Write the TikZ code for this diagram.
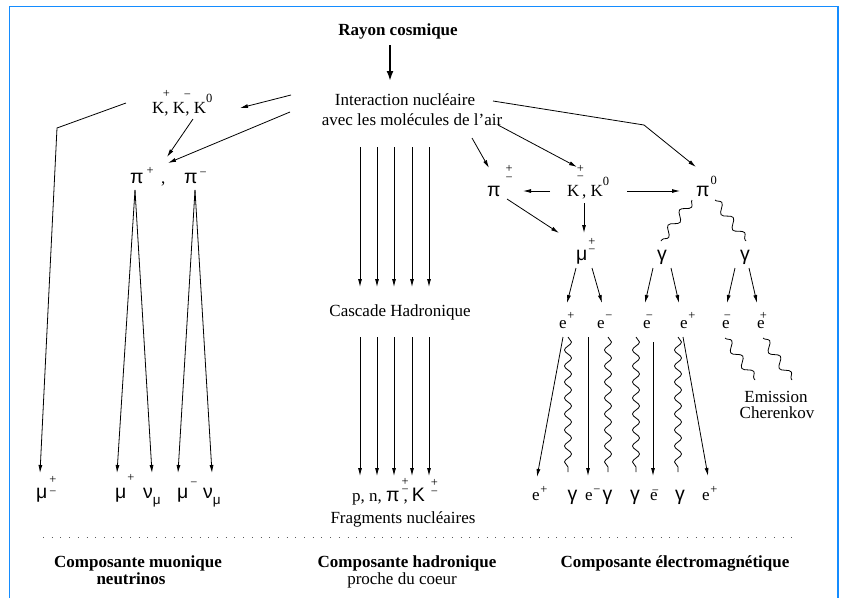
\documentclass[tikz,border=0pt]{standalone}
\usepackage{fontspec}
\setmainfont{Liberation Serif}
\newfontfamily\greekfont{Liberation Sans}
\usetikzlibrary{arrows.meta,decorations.pathmorphing}
\definecolor{framecol}{RGB}{20,140,255}
\definecolor{dotcol}{RGB}{90,90,90}
\newcommand\G[1]{{\fontsize{19.5}{19.5}\greekfont #1}}
\newcommand\Gs[1]{{\fontsize{13.5}{13.5}\greekfont #1}}
\newcommand\Up[2]{\raisebox{#1pt}{\fontsize{12.5}{12.5}\selectfont #2}}
\newcommand\UpL[2]{\rlap{\raisebox{#1pt}{\fontsize{12.5}{12.5}\selectfont #2}}}
\newcommand\PMS[2]{\rlap{\raisebox{#1pt}{\fontsize{12.5}{12.5}\selectfont +}}\raisebox{#2pt}{\fontsize{12.5}{12.5}\selectfont −}}
\tikzset{
  txt/.style={inner sep=0pt, anchor=base, font=\fontsize{17}{20}\selectfont},
  txtw/.style={txt, anchor=base west},
  bold/.style={txt, font=\bfseries\fontsize{17}{20}\selectfont},
  arr/.style={line width=0.8pt, -{Latex[length=8pt,width=4pt]}},
  wav/.style={line width=0.8pt, decorate, decoration={snake, amplitude=3.5pt, segment length=16pt}},
  wavd/.style={line width=0.8pt, decorate, decoration={snake, amplitude=4pt, segment length=19pt}},
}
\begin{document}
\begin{tikzpicture}[x=1pt,y=-1pt]
\useasboundingbox (0,0) rectangle (841,598);
\draw[framecol, line width=1.2pt] (9.5,598) -- (9.5,6.5) -- (838,6.5) -- (838,598);

% ---------- top ----------
\node[bold] (ray) at (398,35) {Rayon cosmique};
\coordinate (rayS) at (390,45);
\coordinate (intN) at (390,81);
\draw[line width=2pt, -{Latex[length=10pt,width=7pt]}] (rayS) -- (intN);
\node[txt] (int1) at (405,105) {Interaction nucléaire};
\node[txt] (int2) at (412,125) {avec les molécules de l’air};

% ---------- muonic column ----------
\node[txtw] (kL) at (152,113) {K\kern-1.5pt\UpL{16}{+}\kern1.5pt, K\kern-1.5pt\UpL{15}{−}\kern1.5pt, K\Up{11}{0}};
\node[txtw] (pip) at (130,183) {\G{π}\kern3pt\Up{9}{+}};
\node[txtw] (comma1) at (161,183) {,};
\node[txtw] (pim) at (184,183) {\G{π}\kern2pt\Up{7}{−}};

\coordinate (i1) at (291,95);  \coordinate (k1) at (240,108);
\coordinate (i2) at (290,112); \coordinate (p1) at (168,163);
\coordinate (k2) at (193,119); \coordinate (p2) at (167,157);
\coordinate (k3) at (126,103); \coordinate (bend1) at (57,128); \coordinate (m0) at (40,473);
\draw[arr] (i1) -- (k1);
\draw[arr] (i2) -- (p1);
\draw[arr] (k2) -- (p2);
\draw[arr] (k3) -- (bend1) -- (m0);

\coordinate (pipS) at (135,190); \coordinate (pimS) at (195,190);
\coordinate (m1) at (117,473); \coordinate (n1) at (152,473);
\coordinate (m2) at (178,473); \coordinate (n2) at (212,473);
\draw[arr] (pipS) -- (m1);
\draw[arr] (pipS) -- (n1);
\draw[arr] (pimS) -- (m2);
\draw[arr] (pimS) -- (n2);

\node[txtw] (muL) at (36,498) {\G{μ}\kern2pt\PMS{15}{2.5}};
\node[txtw] (mu1) at (115,498) {\G{μ}\kern1pt\Up{17}{+}};
\node[txtw] (nu1) at (143,498) {\G{ν}\kern0pt\raisebox{-6pt}{\Gs{μ}}};
\node[txtw] (mu2) at (177,498) {\G{μ}\kern2pt\Up{12}{−}};
\node[txtw] (nu2) at (203,498) {\G{ν}\kern0pt\raisebox{-6pt}{\Gs{μ}}};

% ---------- hadronic column ----------
\foreach \x [count=\i] in {360,377,394,412,429}{
  \coordinate (ha\i) at (\x,147); \coordinate (hb\i) at (\x,287);
  \coordinate (hc\i) at (\x,337); \coordinate (hd\i) at (\x,476);
  \draw[arr] (ha\i) -- (hb\i);
  \draw[arr] (hc\i) -- (hd\i);
}
\node[txt] (casc) at (400,316) {Cascade Hadronique};
\node[txtw] (frag) at (352,501) {p, n, \G{π}\kern2pt\PMS{16}{8}\kern-5pt,\kern4pt\G{K}\kern6pt\PMS{15}{6}};
\node[txt] (fragt) at (403,523) {Fragments nucléaires};

% ---------- electromagnetic column ----------
\node[txtw] (piE) at (487,196) {\G{π}\kern5pt\PMS{24}{15}};
\node[txtw] (kE) at (567,196) {K\kern-2.5pt\PMS{24}{16}\kern-2pt, K\Up{11}{0}};
\node[txtw] (pi0) at (696,196) {\G{π}\kern1pt\Up{12}{0}};

\coordinate (i3) at (472,138); \coordinate (pe1) at (489,168);
\coordinate (i4) at (498,125); \coordinate (ke1) at (577,167);
\coordinate (i5) at (493,101); \coordinate (bend2) at (644,125); \coordinate (p01) at (696,167);
\draw[arr] (i3) -- (pe1);
\draw[arr] (i4) -- (ke1);
\draw[arr] (i5) -- (bend2) -- (p01);

\coordinate (kw) at (550,191); \coordinate (pe2) at (523,191);
\coordinate (ke) at (627,191); \coordinate (p02) at (680,191);
\coordinate (pe3) at (507,199); \coordinate (mu3) at (559,233);
\coordinate (ks) at (584,203); \coordinate (mu4) at (584,233);
\draw[arr] (kw) -- (pe2);
\draw[arr] (ke) -- (p02);
\draw[arr] (pe3) -- (mu3);
\draw[arr] (ks) -- (mu4);

\node[txtw] (muE) at (576,260) {\G{μ}\kern1pt\PMS{15}{7}};
\node[txt] (gam1) at (662,260) {\G{γ}};
\node[txt] (gam2) at (745,260) {\G{γ}};

\coordinate (p0l) at (692,200); \coordinate (g1n) at (661,241);
\coordinate (p0r) at (715,200); \coordinate (g2n) at (746,241);
\draw[wavd] (p0l) -- (g1n);
\draw[wavd] (p0r) -- (g2n);

\coordinate (mua) at (576,268); \coordinate (e1n) at (567,303);
\coordinate (mub) at (592,268); \coordinate (e2n) at (602,303);
\coordinate (g1a) at (653,268); \coordinate (e3n) at (645,303);
\coordinate (g1b) at (671,268); \coordinate (e4n) at (679,303);
\coordinate (g2a) at (735,268); \coordinate (e5n) at (727,303);
\coordinate (g2b) at (749,268); \coordinate (e6n) at (757,303);
\draw[arr] (mua) -- (e1n);
\draw[arr] (mub) -- (e2n);
\draw[arr] (g1a) -- (e3n);
\draw[arr] (g1b) -- (e4n);
\draw[arr] (g2a) -- (e5n);
\draw[arr] (g2b) -- (e6n);

\node[txtw] (e1) at (559,328) {e\kern0.5pt\Up{9}{+}};
\node[txtw] (e2) at (597,328) {e\kern0.5pt\Up{9}{−}};
\node[txtw] (e3) at (643,328) {e\kern-5pt\Up{9}{−}};
\node[txtw] (e4) at (680,328) {e\kern0.5pt\Up{9}{+}};
\node[txtw] (e5) at (722,328) {e\kern-6pt\Up{9}{−}};
\node[txtw] (e6) at (757,328) {e\kern-5pt\Up{9}{+}};

\coordinate (e1s) at (563,337); \coordinate (b1n) at (537,477);
\coordinate (w1a) at (568,337); \coordinate (w1b) at (568,472);
\coordinate (e2s) at (588,337); \coordinate (b3n) at (588,476);
\coordinate (w2a) at (608,337); \coordinate (w2b) at (608,472);
\coordinate (w3a) at (636,337); \coordinate (w3b) at (636,472);
\coordinate (e3s) at (653,342); \coordinate (b6n) at (653,476);
\coordinate (w4a) at (678,337); \coordinate (w4b) at (678,472);
\coordinate (e4s) at (683,337); \coordinate (b8n) at (708,476);
\draw[arr] (e1s) -- (b1n);
\draw[wav] (w1a) -- (w1b);
\draw[arr] (e2s) -- (b3n);
\draw[wav] (w2a) -- (w2b);
\draw[wav] (w3a) -- (w3b);
\draw[arr] (e3s) -- (b6n);
\draw[wav] (w4a) -- (w4b);
\draw[arr] (e4s) -- (b8n);

\coordinate (c1a) at (725,338); \coordinate (c1b) at (755,380);
\coordinate (c2a) at (763,338); \coordinate (c2b) at (792,380);
\draw[wavd] (c1a) -- (c1b);
\draw[wavd] (c2a) -- (c2b);
\node[txt] (emis) at (776,402) {Emission};
\node[txt] (cher) at (777,418) {Cherenkov};

\node[txtw] (b1) at (532,500) {e\kern0.5pt\Up{7}{+}};
\node[txt] (b2) at (572.5,500) {\G{γ}};
\node[txtw] (b3) at (585,500) {e\kern0.5pt\Up{7}{−}};
\node[txt] (b4) at (607.5,500) {\G{γ}};
\node[txt] (b5) at (635,500) {\G{γ}};
\node[txtw] (b6) at (650,500) {e\kern-6pt\Up{6}{−}};
\node[txt] (b7) at (680,500) {\G{γ}};
\node[txtw] (b8) at (702,500) {e\kern0.5pt\Up{7}{+}};

% ---------- separator and captions ----------
\coordinate (dl) at (43,537); \coordinate (dr) at (792,537);
\draw[dotcol, line width=1pt, dash pattern=on 1pt off 7.7pt] (dl) -- (dr);

\node[bold] (capm1) at (138,567) {Composante muonique};
\node[bold] (capm2) at (131,584) {neutrinos};
\node[bold] (caph1) at (407,567) {Composante hadronique};
\node[txt] (caph2) at (402,584) {proche du coeur};
\node[bold] (cape) at (675,567) {Composante électromagnétique};
\end{tikzpicture}
\end{document}
